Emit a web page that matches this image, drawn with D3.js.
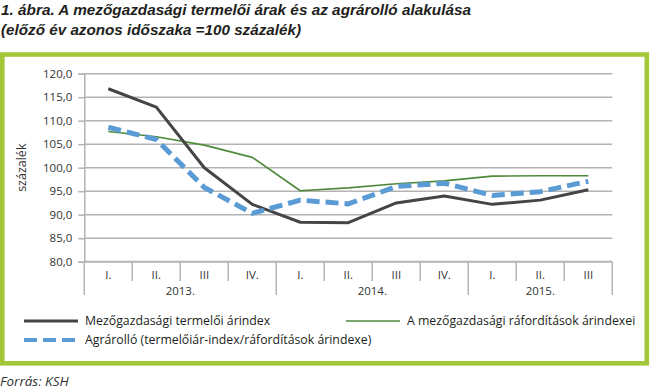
<!DOCTYPE html>
<html>
<head>
<meta charset="utf-8">
<script src="https://cdn.jsdelivr.net/npm/d3@7"></script>
<style>
  body { margin: 0; background: #fff; }
  svg { display: block; }
</style>
</head>
<body>
<div id="chart"></div>
<script>
// quarters and years on the x axis
const quarters = ["I.", "II.", "III", "IV.", "I.", "II.", "III", "IV.", "I.", "II.", "III"];
const years = [
  { label: "2013.", from: 0, to: 4 },
  { label: "2014.", from: 4, to: 8 },
  { label: "2015.", from: 8, to: 11 }
];
const yTicks = [80, 85, 90, 95, 100, 105, 110, 115, 120];

// series
const producer = [116.8, 112.9, 100.0, 92.2, 88.4, 88.3, 92.5, 94.0, 92.2, 93.1, 95.3];
const inputs   = [107.7, 106.6, 104.8, 102.2, 95.1, 95.7, 96.6, 97.2, 98.2, 98.3, 98.3];
const scissors = [108.6, 106.0, 95.8, 90.3, 93.1, 92.3, 96.0, 96.7, 94.1, 94.9, 97.1];

const series = [
  { name: "Mezőgazdasági termelői árindex", values: producer, color: "#454545", width: 3, dash: null },
  { name: "A mezőgazdasági ráfordítások árindexei", values: inputs, color: "#4f8a3b", width: 1.6, dash: null },
  { name: "Agrárolló (termelőiár-index/ráfordítások árindexe)", values: scissors, color: "#5b9bd5", width: 5, dash: "13,6" }
];

const width = 650, height = 391;
const plotLeft = 84.3, plotRight = 612.3, plotTop = 73.7, plotBottom = 261.7;

const svg = d3.select("#chart").append("svg")
  .attr("width", width)
  .attr("height", height)
  .style("font-family", "'Open Sans', 'Liberation Sans', sans-serif");

// title
const title = svg.append("g")
  .attr("fill", "#231f20")
  .style("font-family", "'Liberation Sans', sans-serif")
  .style("font-weight", "bold")
  .style("font-style", "italic")
  .style("font-size", "14px");
title.append("text").attr("x", 1).attr("y", 15)
  .attr("textLength", 470).attr("lengthAdjust", "spacingAndGlyphs")
  .text("1. ábra. A mezőgazdasági termelői árak és az agrárolló alakulása");
title.append("text").attr("x", 1).attr("y", 35)
  .attr("textLength", 300).attr("lengthAdjust", "spacingAndGlyphs")
  .text("(előző év azonos időszaka =100 százalék)");

// green frame
svg.append("rect")
  .attr("x", 2.3).attr("y", 54.5)
  .attr("width", 644.5).attr("height", 308.8)
  .attr("fill", "none")
  .attr("stroke", "#a2c83a")
  .attr("stroke-width", 4.6);

const x = d3.scaleBand().domain(d3.range(quarters.length)).range([plotLeft, plotRight]);
const y = d3.scaleLinear().domain([80, 120]).range([plotBottom, plotTop]);

// gridlines
svg.append("g")
  .selectAll("line")
  .data(yTicks)
  .join("line")
  .attr("x1", plotLeft).attr("x2", plotRight)
  .attr("y1", d => y(d)).attr("y2", d => y(d))
  .attr("stroke", "#b3b3b3")
  .attr("stroke-width", d => d === 80 ? 2 : 1.5);

// y axis
const yAxis = svg.append("g")
  .attr("transform", `translate(${plotLeft},0)`)
  .call(d3.axisLeft(y).tickValues(yTicks).tickSize(6).tickPadding(6)
    .tickFormat(d => d3.format(".1f")(d).replace(".", ",")));
yAxis.select(".domain").attr("stroke", "#b3b3b3").attr("stroke-width", 1.5);
yAxis.selectAll(".tick line").attr("stroke", "#b3b3b3").attr("stroke-width", 1.5);
yAxis.selectAll(".tick text")
  .attr("fill", "#333")
  .style("font-size", "11.5px")
  .style("font-family", "'Open Sans', sans-serif");

svg.append("text")
  .attr("transform", `translate(26,${(plotTop + plotBottom) / 2}) rotate(-90)`)
  .attr("text-anchor", "middle")
  .attr("fill", "#333")
  .style("font-size", "12.5px")
  .text("százalék");

// x axis: quarter separators and year separators
const boundaries = d3.range(quarters.length + 1);
const yearEdges = new Set(years.flatMap(d => [d.from, d.to]));
svg.append("g")
  .selectAll("line")
  .data(boundaries)
  .join("line")
  .attr("x1", i => plotLeft + i * x.step()).attr("x2", i => plotLeft + i * x.step())
  .attr("y1", plotBottom)
  .attr("y2", i => yearEdges.has(i) ? 295 : 281)
  .attr("stroke", "#b3b3b3")
  .attr("stroke-width", 1.5);

svg.append("g")
  .selectAll("text")
  .data(quarters)
  .join("text")
  .attr("x", (d, i) => x(i) + x.bandwidth() / 2)
  .attr("y", 279)
  .attr("text-anchor", "middle")
  .attr("fill", "#333")
  .style("font-size", "11.5px")
  .text(d => d);

svg.append("g")
  .selectAll("text")
  .data(years)
  .join("text")
  .attr("x", d => plotLeft + (d.from + d.to) / 2 * x.step())
  .attr("y", 295)
  .attr("text-anchor", "middle")
  .attr("fill", "#333")
  .style("font-size", "11.5px")
  .text(d => d.label);

// lines
const line = d3.line()
  .x((d, i) => x(i) + x.bandwidth() / 2)
  .y(d => y(d));

svg.append("g")
  .selectAll("path")
  .data([series[1], series[0], series[2]])
  .join("path")
  .attr("d", d => line(d.values))
  .attr("fill", "none")
  .attr("stroke", d => d.color)
  .attr("stroke-width", d => d.width)
  .attr("stroke-dasharray", d => d.dash)
  .attr("stroke-linejoin", "round");

// legend
const legendPos = [
  { x: 24, y: 321 },
  { x: 346, y: 321 },
  { x: 24, y: 340 }
];
const legend = svg.append("g")
  .selectAll("g")
  .data(series)
  .join("g")
  .attr("transform", (d, i) => `translate(${legendPos[i].x},${legendPos[i].y})`);
legend.append("line")
  .attr("x1", 0).attr("x2", 54)
  .attr("stroke", d => d.color)
  .attr("stroke-width", d => d.width === 5 ? 4 : d.width)
  .attr("stroke-dasharray", d => d.dash);
legend.append("text")
  .attr("x", 61).attr("dy", "0.35em")
  .attr("fill", "#231f20")
  .style("font-size", "12.3px")
  .text(d => d.name);

// source
svg.append("text")
  .attr("x", 0).attr("y", 386)
  .attr("fill", "#333")
  .style("font-style", "italic")
  .style("font-size", "13.5px")
  .text("Forrás: KSH");
</script>
</body>
</html>
